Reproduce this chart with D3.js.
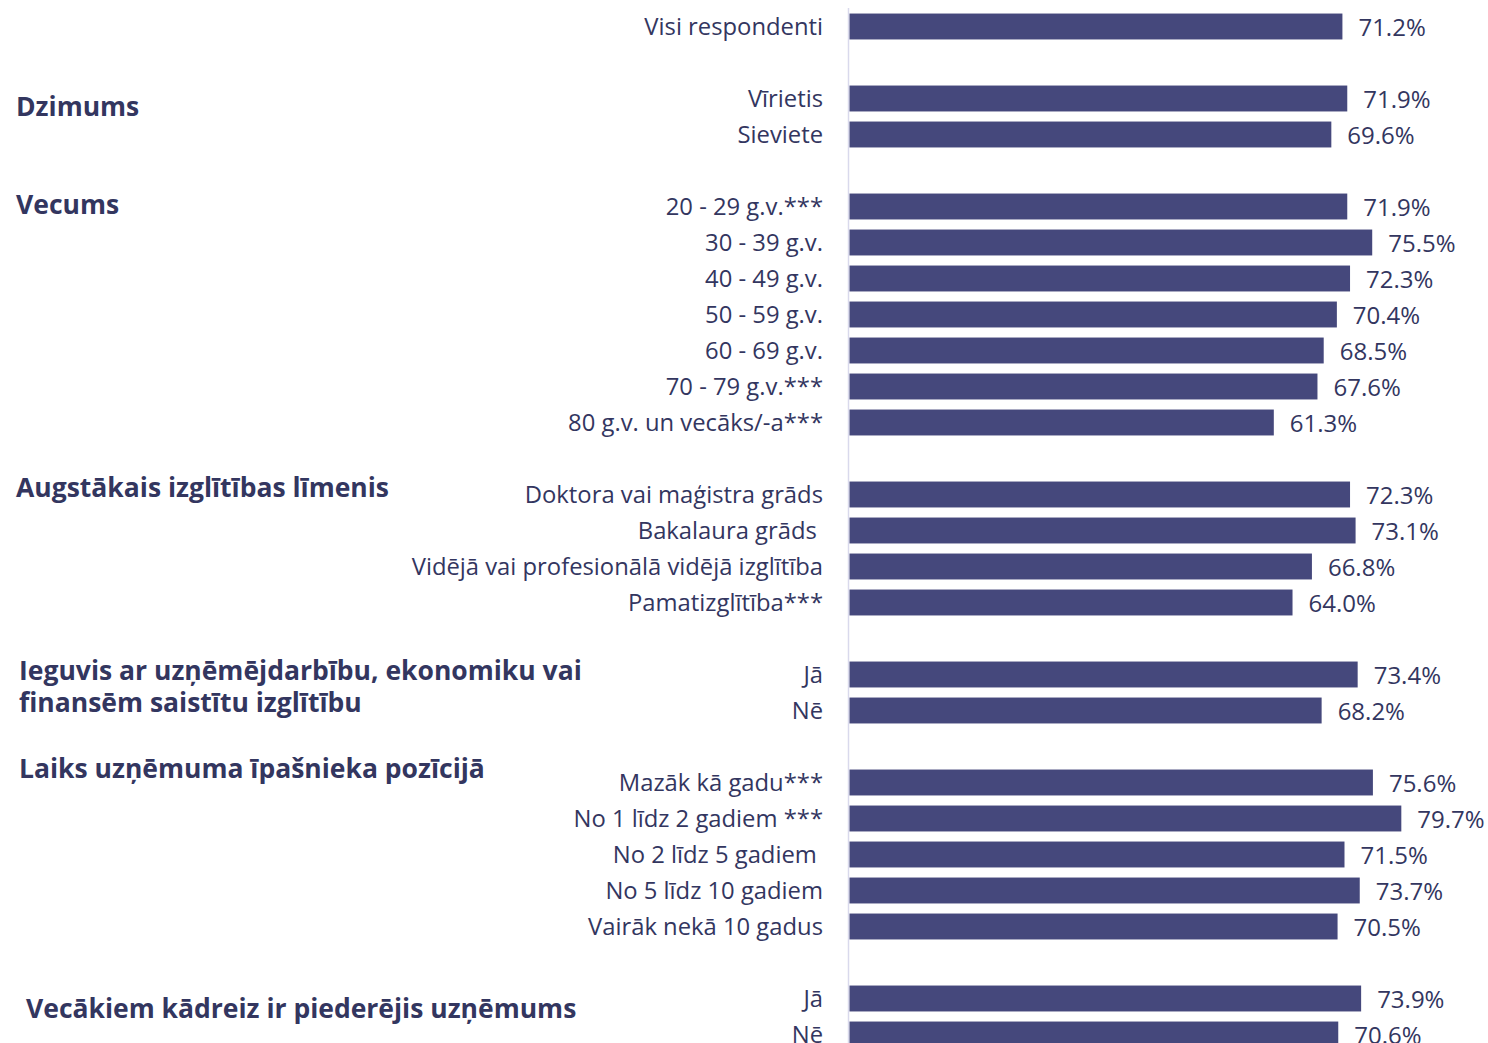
<!DOCTYPE html>
<html>
<head>
<meta charset="utf-8">
<script src="https://cdn.jsdelivr.net/npm/d3@7"></script>
<style>
  html, body { margin: 0; padding: 0; background: #ffffff; }
  svg { display: block; }
  text { font-family: "Open Sans", "Noto Sans", sans-serif; white-space: pre; }
</style>
</head>
<body>
<svg id="chart" width="1488" height="1043"></svg>
<script>
// ---- data ----
// row keys (blank "gapN" entries are spacer rows between groups)
const rowKeys = [
  "r0", "gap1", "r1", "r2", "gap2",
  "r3", "r4", "r5", "r6", "r7", "r8", "r9", "gap3",
  "r10", "r11", "r12", "r13", "gap4",
  "r14", "r15", "gap5",
  "r16", "r17", "r18", "r19", "r20", "gap6",
  "r21", "r22"
];
const categories = [
  "Visi respondenti",
  "Vīrietis", "Sieviete",
  "20 - 29 g.v.***", "30 - 39 g.v.", "40 - 49 g.v.", "50 - 59 g.v.", "60 - 69 g.v.", "70 - 79 g.v.***", "80 g.v. un vecāks/-a***",
  "Doktora vai maģistra grāds", "Bakalaura grāds ", "Vidējā vai profesionālā vidējā izglītība", "Pamatizglītība***",
  "Jā", "Nē",
  "Mazāk kā gadu***", "No 1 līdz 2 gadiem ***", "No 2 līdz 5 gadiem ", "No 5 līdz 10 gadiem", "Vairāk nekā 10 gadus",
  "Jā", "Nē"
];
const values = [
  71.2,
  71.9, 69.6,
  71.9, 75.5, 72.3, 70.4, 68.5, 67.6, 61.3,
  72.3, 73.1, 66.8, 64.0,
  73.4, 68.2,
  75.6, 79.7, 71.5, 73.7, 70.5,
  73.9, 70.6
];
const groupTitles = [
  ["Dzimums"],
  ["Vecums"],
  ["Augstākais izglītības līmenis"],
  ["Ieguvis ar uzņēmējdarbību, ekonomiku vai", "finansēm saistītu izglītību"],
  ["Laiks uzņēmuma īpašnieka pozīcijā"],
  ["Vecākiem kādreiz ir piederējis uzņēmums"]
];
// first row key of each group (anchor for group title)
const groupAnchors = ["r1", "r3", "r10", "r14", "r16", "r21"];

// ---- layout (not data) ----
const groupLayout = [
  { x: 16, dy: 8 },
  { x: 16, dy: -2 },
  { x: 16, dy: -7 },
  { x: 19, dy: -4 },
  { x: 19, dy: -14 },
  { x: 26, dy: 10 }
];

const barColor = "#45487c";
const textColor = "#33365f";
const axisColor = "#d9d9ec";

const svg = d3.select("#chart");

const rows = rowKeys.filter(k => !k.startsWith("gap")).map((k, i) => ({ key: k, label: categories[i], value: values[i] }));

const y = d3.scaleBand()
  .domain(rowKeys)
  .range([8.5, 8.5 + 36 * rowKeys.length])
  .paddingInner(0.28)
  .paddingOuter(0.14);

const x = d3.scaleLinear().domain([0, 100]).range([849, 1542]);

// axis line
svg.append("line")
  .attr("x1", x(0) - 0.5).attr("x2", x(0) - 0.5)
  .attr("y1", 8).attr("y2", 1043)
  .attr("stroke", axisColor).attr("stroke-width", 1.5);

// bars
svg.append("g").selectAll("rect")
  .data(rows)
  .join("rect")
  .attr("x", x(0) + 0.5)
  .attr("y", d => y(d.key))
  .attr("width", d => x(d.value) - x(0) - 0.5)
  .attr("height", y.bandwidth())
  .attr("fill", barColor);

// value labels
svg.append("g").selectAll("text")
  .data(rows)
  .join("text")
  .attr("x", d => x(d.value) + 16)
  .attr("y", d => y(d.key) + y.bandwidth() / 2 + 0.5)
  .attr("dy", "0.36em")
  .attr("font-size", 24)
  .attr("fill", textColor)
  .text(d => d.value.toFixed(1) + "%");

// category labels
svg.append("g").selectAll("text")
  .data(rows)
  .join("text")
  .attr("x", 823)
  .attr("y", d => y(d.key) + y.bandwidth() / 2 - 0.5)
  .attr("dy", "0.36em")
  .attr("text-anchor", "end")
  .attr("font-size", 23.8)
  .attr("fill", textColor)
  .text(d => d.label);

// group titles
groupTitles.forEach((lines, i) => {
  const cy = y(groupAnchors[i]) + y.bandwidth() / 2 + groupLayout[i].dy;
  const t = svg.append("text")
    .attr("x", groupLayout[i].x)
    .attr("y", cy)
    .attr("font-size", 26.5)
    .attr("font-weight", 700)
    .attr("fill", textColor);
  lines.forEach((ln, j) => {
    t.append("tspan")
      .attr("x", groupLayout[i].x)
      .attr("dy", j === 0 ? "0.36em" : 32)
      .text(ln);
  });
});
</script>
</body>
</html>
